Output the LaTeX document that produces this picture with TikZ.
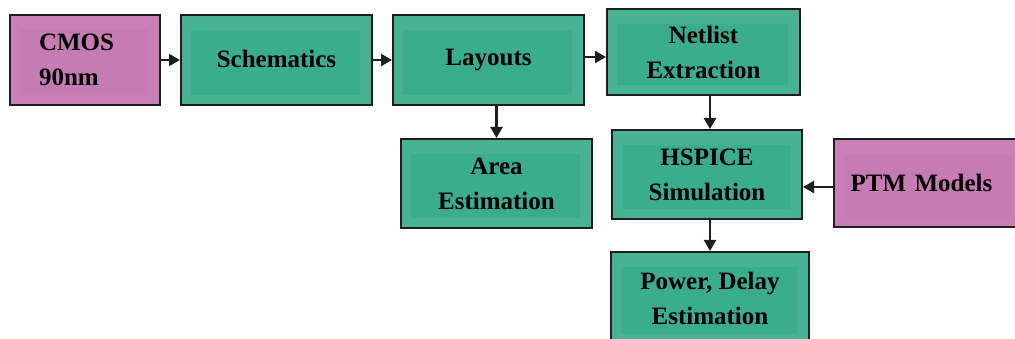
\documentclass[tikz,border=0pt]{standalone}
\usepackage{fontspec}
\setmainfont{Liberation Serif}
\usetikzlibrary{arrows.meta}
\definecolor{greenout}{HTML}{47B393}
\definecolor{greenin}{HTML}{39AD8C}
\definecolor{pinkout}{HTML}{CA80B7}
\definecolor{pinkin}{HTML}{C77BB3}
\definecolor{edge}{HTML}{1E1E1E}
\tikzset{
  block/.style={draw=edge, line width=2pt, rectangle, inner sep=0pt,
    font=\fontsize{25}{35}\selectfont\bfseries, text=black, align=center},
  greenblock/.style={block, fill=greenout,
    path picture={\fill[greenin]
      ([shift={(10pt,-15pt)}]path picture bounding box.north west) rectangle
      ([shift={(-12pt,10pt)}]path picture bounding box.south east);}},
  pinkblock/.style={block, fill=pinkout,
    path picture={\fill[pinkin]
      ([shift={(10pt,-15pt)}]path picture bounding box.north west) rectangle
      ([shift={(-12pt,10pt)}]path picture bounding box.south east);}},
  flow/.style={draw=edge, line width=2.4pt, -{Triangle[length=11pt,width=12pt]}}
}
\begin{document}
\begin{tikzpicture}[x=1pt,y=-1pt]
\useasboundingbox (0,0) rectangle (1015,339);
\clip (0,0) rectangle (1015,339);
\node[pinkblock, minimum width=150pt, minimum height=90pt, text width=92pt, align=left] (cmos) at (85,60) {CMOS\\90nm};
\node[greenblock, minimum width=191pt, minimum height=90pt] (sch) at (276.5,60) {\raisebox{3pt}{Schematics}};
\node[greenblock, minimum width=191pt, minimum height=90pt] (lay) at (488.5,60) {\raisebox{3pt}{Layouts}};
\node[greenblock, minimum width=193pt, minimum height=86pt] (net) at (703.5,52) {Netlist\\Extraction};
\node[greenblock, minimum width=191pt, minimum height=89pt] (area) at (496.5,183.5) {Area\\Estimation};
\node[greenblock, minimum width=190pt, minimum height=89pt] (hsp) at (707,174.5) {HSPICE\\Simulation};
\node[pinkblock, minimum width=190pt, minimum height=88pt, text width=175pt] (ptm) at (929,183) {PTM Models\hspace*{15pt}};
\node[greenblock, minimum width=198pt, minimum height=92pt] (pow) at (710,298) {Power, Delay\\Estimation};
\draw[flow] (cmos.east) -- (sch.west);
\draw[flow] (sch.east) -- (lay.west);
\draw[flow] ([yshift=3pt]lay.east) -- ([yshift=3pt]lay.east -| net.west);
\draw[flow] (area.north |- lay.south) -- (area.north);
\draw[flow] ([xshift=3pt]hsp.north |- net.south) -- ([xshift=3pt]hsp.north);
\draw[flow] ([yshift=-4pt]ptm.west) -- ([yshift=-4pt]ptm.west -| hsp.east);
\draw[flow] (pow.north |- hsp.south) -- (pow.north);
\end{tikzpicture}
\end{document}
